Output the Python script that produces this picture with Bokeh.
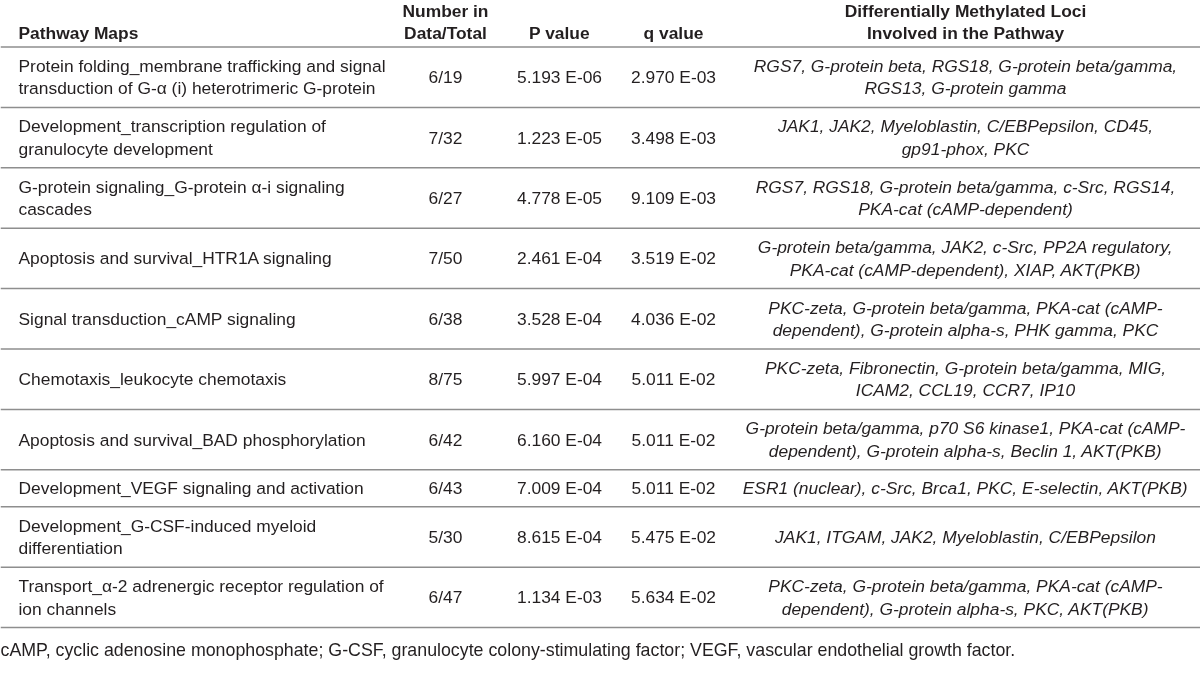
from bokeh.plotting import figure
from bokeh.models import ColumnDataSource, Range1d
from bokeh.core.properties import value
from bokeh.embed import file_html
from bokeh.resources import INLINE

# ---------------- data ----------------
headers = ["Pathway Maps", "Number in\nData/Total", "P value", "q value",
           "Differentially Methylated Loci\nInvolved in the Pathway"]

pathways = [
    "Protein folding_membrane trafficking and signal\ntransduction of G-\u03b1 (i) heterotrimeric G-protein",
    "Development_transcription regulation of\ngranulocyte development",
    "G-protein signaling_G-protein \u03b1-i signaling\ncascades",
    "Apoptosis and survival_HTR1A signaling",
    "Signal transduction_cAMP signaling",
    "Chemotaxis_leukocyte chemotaxis",
    "Apoptosis and survival_BAD phosphorylation",
    "Development_VEGF signaling and activation",
    "Development_G-CSF-induced myeloid\ndifferentiation",
    "Transport_\u03b1-2 adrenergic receptor regulation of\nion channels",
]

number_in_data = ["6/19", "7/32", "6/27", "7/50", "6/38", "8/75", "6/42", "6/43", "5/30", "6/47"]

p_values = ["5.193 E-06", "1.223 E-05", "4.778 E-05", "2.461 E-04", "3.528 E-04",
            "5.997 E-04", "6.160 E-04", "7.009 E-04", "8.615 E-04", "1.134 E-03"]

q_values = ["2.970 E-03", "3.498 E-03", "9.109 E-03", "3.519 E-02", "4.036 E-02",
            "5.011 E-02", "5.011 E-02", "5.011 E-02", "5.475 E-02", "5.634 E-02"]

loci = [
    "RGS7, G-protein beta, RGS18, G-protein beta/gamma,\nRGS13, G-protein gamma",
    "JAK1, JAK2, Myeloblastin, C/EBPepsilon, CD45,\ngp91-phox, PKC",
    "RGS7, RGS18, G-protein beta/gamma, c-Src, RGS14,\nPKA-cat (cAMP-dependent)",
    "G-protein beta/gamma, JAK2, c-Src, PP2A regulatory,\nPKA-cat (cAMP-dependent), XIAP, AKT(PKB)",
    "PKC-zeta, G-protein beta/gamma, PKA-cat (cAMP-\ndependent), G-protein alpha-s, PHK gamma, PKC",
    "PKC-zeta, Fibronectin, G-protein beta/gamma, MIG,\nICAM2, CCL19, CCR7, IP10",
    "G-protein beta/gamma, p70 S6 kinase1, PKA-cat (cAMP-\ndependent), G-protein alpha-s, Beclin 1, AKT(PKB)",
    "ESR1 (nuclear), c-Src, Brca1, PKC, E-selectin, AKT(PKB)",
    "JAK1, ITGAM, JAK2, Myeloblastin, C/EBPepsilon",
    "PKC-zeta, G-protein beta/gamma, PKA-cat (cAMP-\ndependent), G-protein alpha-s, PKC, AKT(PKB)",
]

footnote = ("cAMP, cyclic adenosine monophosphate; G-CSF, granulocyte colony-stimulating "
            "factor; VEGF, vascular endothelial growth factor.")

# ---------------- layout (pixels) ----------------
W, H = 1200, 674
FONT = value("Liberation Sans")
FSIZE = "17.4px"
TEXT_COLOR = "#231f20"
RULE_COLOR = "#8e8e8e"
LINE_H = 22.5          # spacing between text lines
ROW_BASE = 13.6        # padding per row
ROW_PER_LINE = 23.4
HEADER_RULE = 46.5
col_x = [18, 445, 559, 673, 965]
col_align = ["left", "center", "center", "center", "center"]

p = figure(width=W, height=H, x_range=Range1d(0, W), y_range=Range1d(H, 0),
           output_backend="svg", toolbar_location=None, min_border=0,
           background_fill_color="white", border_fill_color="white")
p.xaxis.visible = False
p.yaxis.visible = False
p.grid.visible = False
p.outline_line_color = None
p.styles = {"position": "fixed", "top": "0px", "left": "0px"}


def add_text(xs, ys, texts, align, style="normal", size=FSIZE):
    src = ColumnDataSource(dict(x=xs, y=ys, t=texts))
    p.text(x="x", y="y", text="t", source=src, text_font=FONT, text_font_size=size,
           text_color=TEXT_COLOR, text_align=align, text_baseline="middle",
           text_font_style=style)


# header (bottom aligned)
for hdr, cx, al in zip(headers, col_x, col_align):
    lines = hdr.split("\n")
    n = len(lines)
    ys = [HEADER_RULE - 14 - LINE_H * (n - 1 - i) for i in range(n)]
    add_text([cx] * n, ys, lines, al, style="bold")

# body rows
rules = [HEADER_RULE]
top = HEADER_RULE
columns = [pathways, number_in_data, p_values, q_values, loci]
styles = ["normal", "normal", "normal", "normal", "italic"]
for r in range(len(pathways)):
    cells = [col[r].split("\n") for col in columns]
    nmax = max(len(c) for c in cells)
    h = ROW_BASE + ROW_PER_LINE * nmax
    mid = top + h / 2
    for c, cx, al, st in zip(cells, col_x, col_align, styles):
        n = len(c)
        ys = [mid + LINE_H * (i - (n - 1) / 2) for i in range(n)]
        add_text([cx] * n, ys, c, al, style=st)
    top += h
    rules.append(top)

p.segment(x0=[0] * len(rules), x1=[W] * len(rules), y0=rules, y1=rules,
          line_color=RULE_COLOR, line_width=1.5)

# footnote
add_text([0], [top + 22], [footnote], "left", size="17.8px")

open("out.html", "w").write(file_html(p, INLINE))
